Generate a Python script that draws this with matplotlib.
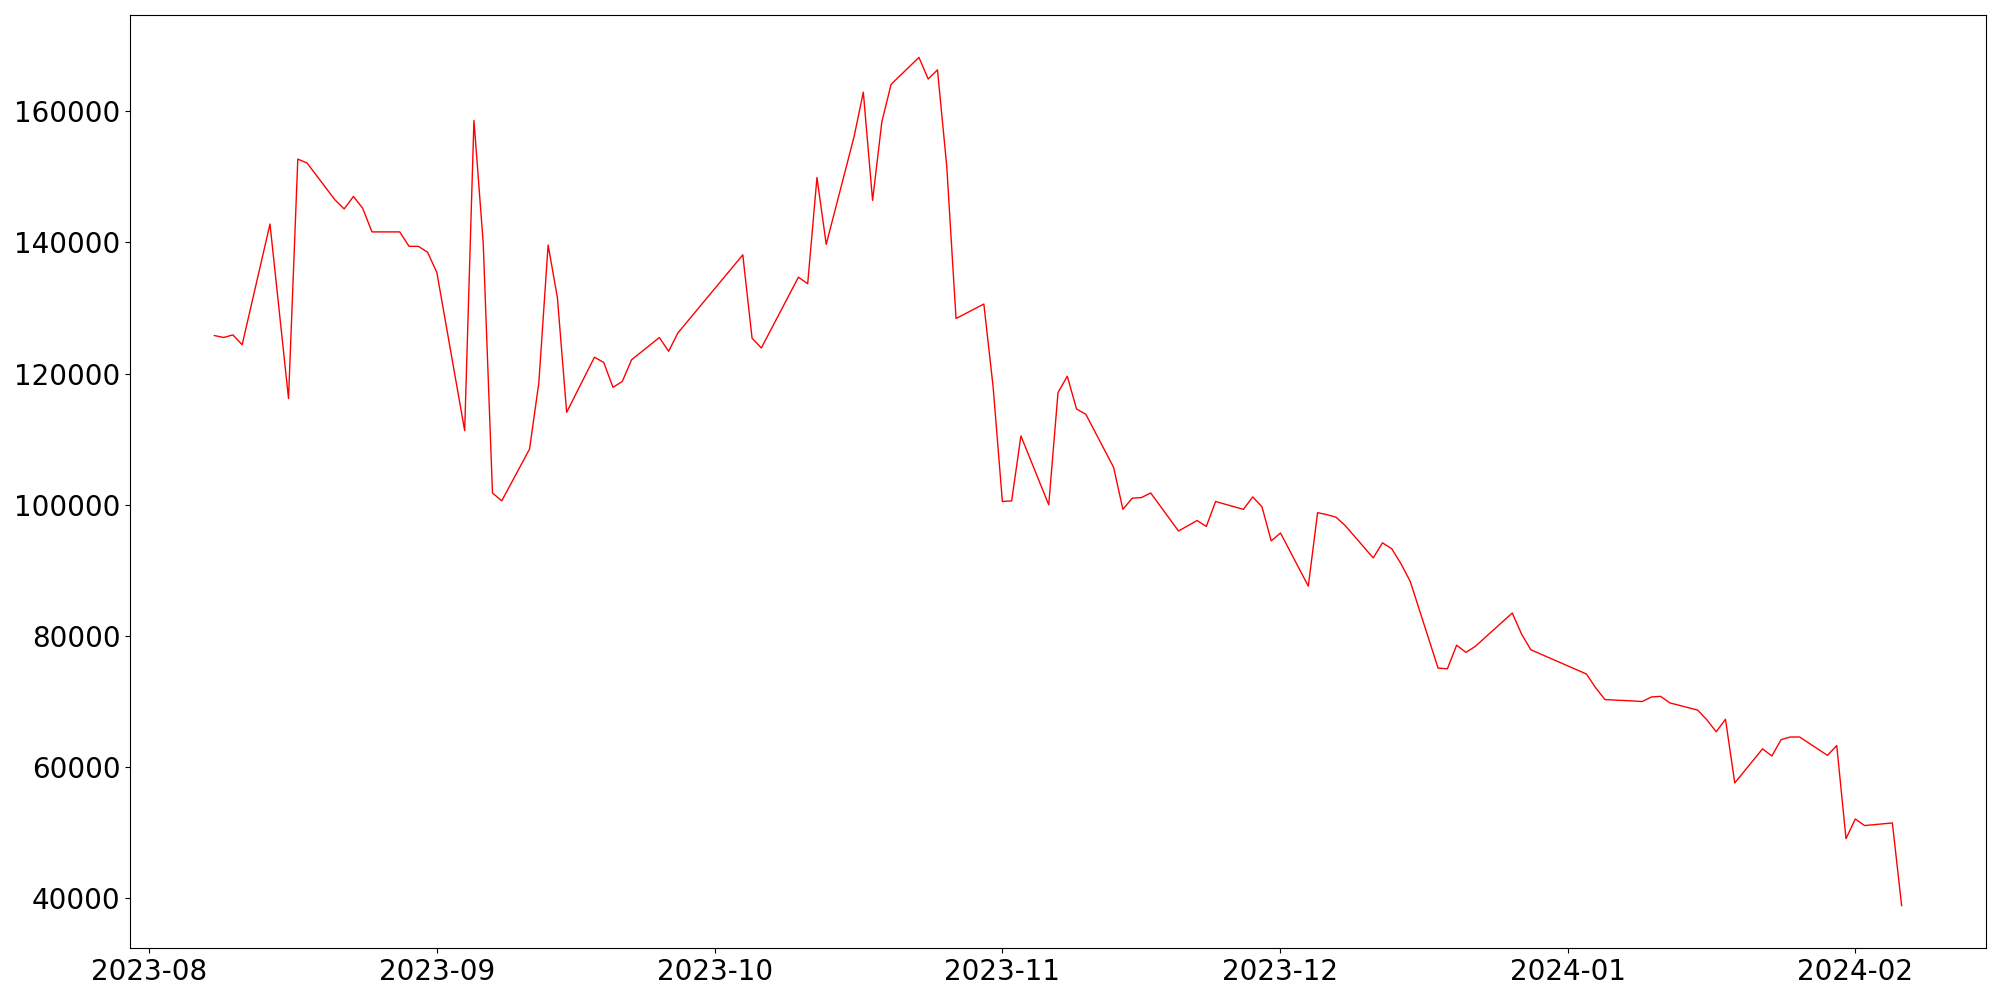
import pandas as pd
import matplotlib
matplotlib.use("Agg")
import matplotlib.pyplot as plt

# trading days (Korean market) and closing prices
dates = [
    "2023-08-08", "2023-08-09", "2023-08-10", "2023-08-11", "2023-08-14",
    "2023-08-16", "2023-08-17", "2023-08-18", "2023-08-21", "2023-08-22",
    "2023-08-23", "2023-08-24", "2023-08-25", "2023-08-28", "2023-08-29",
    "2023-08-30", "2023-08-31", "2023-09-01", "2023-09-04", "2023-09-05",
    "2023-09-06", "2023-09-07", "2023-09-08", "2023-09-11", "2023-09-12",
    "2023-09-13", "2023-09-14", "2023-09-15", "2023-09-18", "2023-09-19",
    "2023-09-20", "2023-09-21", "2023-09-22", "2023-09-25", "2023-09-26",
    "2023-09-27", "2023-10-04", "2023-10-05", "2023-10-06", "2023-10-10",
    "2023-10-11", "2023-10-12", "2023-10-13", "2023-10-16", "2023-10-17",
    "2023-10-18", "2023-10-19", "2023-10-20", "2023-10-23", "2023-10-24",
    "2023-10-25", "2023-10-26", "2023-10-27", "2023-10-30", "2023-10-31",
    "2023-11-01", "2023-11-02", "2023-11-03", "2023-11-06", "2023-11-07",
    "2023-11-08", "2023-11-09", "2023-11-10", "2023-11-13", "2023-11-14",
    "2023-11-15", "2023-11-16", "2023-11-17", "2023-11-20", "2023-11-21",
    "2023-11-22", "2023-11-23", "2023-11-24", "2023-11-27", "2023-11-28",
    "2023-11-29", "2023-11-30", "2023-12-01", "2023-12-04", "2023-12-05",
    "2023-12-06", "2023-12-07", "2023-12-08", "2023-12-11", "2023-12-12",
    "2023-12-13", "2023-12-14", "2023-12-15", "2023-12-18", "2023-12-19",
    "2023-12-20", "2023-12-21", "2023-12-22", "2023-12-26", "2023-12-27",
    "2023-12-28", "2024-01-03", "2024-01-04", "2024-01-05", "2024-01-08",
    "2024-01-09", "2024-01-10", "2024-01-11", "2024-01-12", "2024-01-15",
    "2024-01-16", "2024-01-17", "2024-01-18", "2024-01-19", "2024-01-22",
    "2024-01-23", "2024-01-24", "2024-01-25", "2024-01-26", "2024-01-29",
    "2024-01-30", "2024-01-31", "2024-02-01", "2024-02-02", "2024-02-05",
    "2024-02-06",
]

close = [
    125800, 125500, 125900, 124400, 142800,
    116200, 152700, 152100, 146500, 145100,
    147000, 145200, 141600, 141600, 139400,
    139400, 138500, 135400, 111300, 158600,
    139900, 101800, 100600, 108500, 118600,
    139600, 131600, 114100, 122500, 121700,
    117900, 118800, 122100, 125500, 123400,
    126200, 138100, 125400, 123900, 134700,
    133700, 149900, 139700, 156100, 162900,
    146400, 158400, 164100, 168200, 164900,
    166300, 151600, 128400, 130600, 118000,
    100500, 100600, 110500, 100000, 117100,
    119600, 114600, 113800, 105700, 99300,
    101000, 101100, 101800, 96000, 96800,
    97600, 96700, 100500, 99300, 101200,
    99700, 94500, 95700, 87600, 98800,
    98500, 98100, 96800, 91900, 94200,
    93300, 91000, 88300, 75100, 75000,
    78600, 77500, 78400, 83500, 80300,
    77900, 74200, 72100, 70300, 70100,
    70000, 70700, 70800, 69800, 68700,
    67200, 65400, 67300, 57600, 62800,
    61700, 64200, 64600, 64600, 61800,
    63300, 49100, 52100, 51100, 51500,
    38900,
]

x = pd.to_datetime(dates)

fig, ax = plt.subplots(figsize=(20, 10), dpi=100)
ax.plot(x, close, color="red", linewidth=1)

ax.tick_params(axis="both", labelsize=20)

fig.subplots_adjust(left=0.065, right=0.993, bottom=0.052, top=0.985)
fig.savefig("out.png")
